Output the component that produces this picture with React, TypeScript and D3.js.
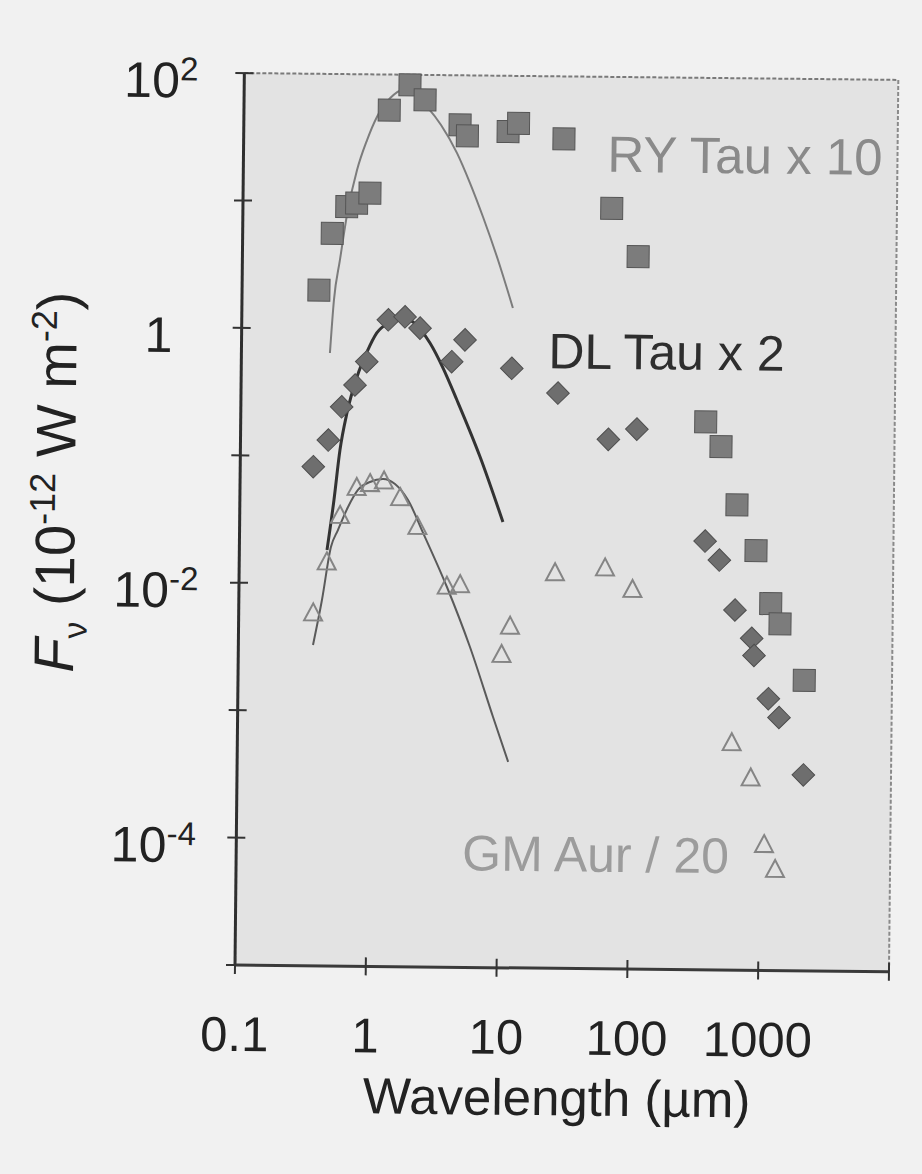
import React from "react";
import * as d3 from "d3";

// ---- data (wavelength in µm, flux in 10^-12 W m^-2) ----
const ryTauWavelength = [0.387, 0.484, 0.622, 0.74, 0.933, 1.29, 1.85, 2.42, 4.5, 5.13, 10.5, 12.6, 28.1, 66.0, 106, 359, 472, 632, 891, 1166, 1378, 2133];
const ryTauFlux = [2.01, 5.62, 9.12, 9.72, 11.7, 52.7, 83.2, 63.7, 40.8, 33.5, 36.5, 42.5, 32.3, 9.31, 3.9, 0.2, 0.128, 0.0448, 0.0197, 0.00757, 0.00526, 0.00191];

const dlTauWavelength = [0.362, 0.469, 0.59, 0.743, 0.91, 1.32, 1.77, 2.31, 4.06, 5.11, 11.7, 26.5, 64.9, 107, 363, 468, 622, 839, 877, 1138, 1377, 2137];
const dlTauFlux = [0.0826, 0.134, 0.245, 0.364, 0.556, 1.19, 1.26, 1.03, 0.565, 0.84, 0.507, 0.327, 0.143, 0.173, 0.0232, 0.0165, 0.00671, 0.00404, 0.00296, 0.00136, 0.00097, 0.000345];

const gmAurWavelength = [0.371, 0.467, 0.585, 0.78, 0.986, 1.26, 1.68, 2.29, 3.88, 4.9, 10.3, 11.9, 26.0, 62.7, 102, 602, 846, 1084, 1321];
const gmAurFlux = [0.00583, 0.0147, 0.0341, 0.0567, 0.061, 0.0641, 0.0476, 0.0284, 0.00968, 0.01, 0.00285, 0.00476, 0.0126, 0.0139, 0.00946, 0.000604, 0.000321, 0.0000966, 0.0000617];

// photosphere model curves
const ryModelWavelength = [0.475, 0.505, 0.557, 0.625, 0.74, 0.878, 1.04, 1.31, 1.64, 2.03, 2.51, 3.22, 4.29, 5.42, 6.86, 9.0, 11.8];
const ryModelFlux = [0.646, 1.69, 3.48, 7.85, 17.7, 30.5, 46.4, 65.5, 76.0, 69.5, 56.1, 40.6, 24.5, 14.3, 7.76, 3.58, 1.51];

const dlModelWavelength = [0.468, 0.524, 0.577, 0.648, 0.768, 0.912, 1.08, 1.36, 1.65, 2.04, 2.76, 3.49, 4.48, 6.8, 10.3];
const dlModelFlux = [0.0184, 0.0454, 0.112, 0.219, 0.421, 0.663, 0.936, 1.14, 1.23, 1.15, 0.789, 0.503, 0.283, 0.102, 0.0315];

const gmModelWavelength = [0.372, 0.432, 0.501, 0.565, 0.672, 0.798, 0.984, 1.24, 1.53, 1.93, 2.53, 3.89, 5.9, 8.97, 11.8];
const gmModelFlux = [0.00329, 0.00743, 0.0194, 0.0264, 0.0401, 0.0547, 0.0633, 0.067, 0.0613, 0.046, 0.0255, 0.00963, 0.00327, 0.000927, 0.000413];

const xTickValues = [0.1, 1, 10, 100, 1000, 10000];
const xTickLabels = ["0.1", "1", "10", "100", "1000"];
const yTickValues = [1e2, 1e1, 1, 1e-1, 1e-2, 1e-3, 1e-4, 1e-5];
const yLabelValues = [1e2, 1, 1e-2, 1e-4];
const yLabelBase = ["10", "1", "10", "10"];
const yLabelExp = ["2", "", "-2", "-4"];

const seriesLabels = ["RY Tau x 10", "DL Tau x 2", "GM Aur / 20"];

// ---- layout ----
const W = 922;
const H = 1174;
const L = 235;
const R = 889;
const T = 73;
const B = 965;
const FONT = "'Liberation Sans', Arial, Helvetica, sans-serif";

export default function App() {
  const x = d3.scaleLog().domain([0.1, 1e4]).range([L, R]);
  const y = d3.scaleLog().domain([1e-5, 1e2]).range([B, T]);

  const line = d3
    .line<[number, number]>()
    .x((d) => x(d[0]))
    .y((d) => y(d[1]))
    .curve(d3.curveMonotoneX);

  const zip = (a: number[], b: number[]) => a.map((v, i) => [v, b[i]] as [number, number]);
  const ry = zip(ryTauWavelength, ryTauFlux);
  const dl = zip(dlTauWavelength, dlTauFlux);
  const gm = zip(gmAurWavelength, gmAurFlux);

  const sq = 22;
  const dia = 16;

  return (
    <svg
      width={W}
      height={H}
      style={{ position: "absolute", left: 0, top: 0, display: "block" }}
      fontFamily={FONT}
    >
      <rect x={0} y={0} width={W} height={H} fill="#f1f1f1" />
      <g transform={`rotate(0.6, ${L}, ${B})`}>
        {/* plot background */}
        <rect x={L} y={T} width={R - L} height={B - T} fill="#e3e3e3" />

        {/* top & right frame (light, dotted) */}
        <line x1={L} y1={T} x2={R} y2={T} stroke="#7a7a7a" strokeWidth={2} strokeDasharray="4 2" />
        <line x1={R} y1={T} x2={R} y2={B} stroke="#8a8a8a" strokeWidth={2} strokeDasharray="4 2" />

        {/* model curves */}
        <path d={line(zip(ryModelWavelength, ryModelFlux)) || ""} fill="none" stroke="#7c7c7c" strokeWidth={2} />
        <path d={line(zip(gmModelWavelength, gmModelFlux)) || ""} fill="none" stroke="#5a5a5a" strokeWidth={2} />
        <path d={line(zip(dlModelWavelength, dlModelFlux)) || ""} fill="none" stroke="#333" strokeWidth={3} />

        {/* RY Tau squares */}
        {ry.map((d, i) => (
          <rect
            key={"ry" + i}
            x={x(d[0]) - sq / 2}
            y={y(d[1]) - sq / 2}
            width={sq}
            height={sq}
            fill="#7c7c7c"
            stroke="#555"
            strokeWidth={1}
          />
        ))}

        {/* DL Tau diamonds */}
        {dl.map((d, i) => (
          <rect
            key={"dl" + i}
            x={-dia / 2}
            y={-dia / 2}
            width={dia}
            height={dia}
            transform={`translate(${x(d[0])},${y(d[1])}) rotate(45)`}
            fill="#6e6e6e"
            stroke="#4e4e4e"
            strokeWidth={1}
          />
        ))}

        {/* GM Aur triangles */}
        {gm.map((d, i) => {
          const cx = x(d[0]);
          const cy = y(d[1]);
          return (
            <path
              key={"gm" + i}
              d={`M${cx},${cy - 10} L${cx + 9},${cy + 7} L${cx - 9},${cy + 7} Z`}
              fill="none"
              stroke="#858585"
              strokeWidth={2}
            />
          );
        })}

        {/* left axis */}
        <line x1={L} y1={T} x2={L} y2={B} stroke="#2e2e2e" strokeWidth={3} />
        {yTickValues.map((v) => (
          <line key={"yt" + v} x1={L - 9} x2={L + 9} y1={y(v)} y2={y(v)} stroke="#333" strokeWidth={2} />
        ))}
        {/* bottom axis */}
        <line x1={L} y1={B} x2={R} y2={B} stroke="#3a3a3a" strokeWidth={3} />
        {xTickValues.map((v) => (
          <line key={"xt" + v} x1={x(v)} x2={x(v)} y1={B - 9} y2={B + 9} stroke="#333" strokeWidth={2} />
        ))}

        {/* x tick labels */}
        {xTickLabels.map((s, i) => (
          <text key={"xl" + s} x={x(xTickValues[i])} y={B + 86} fontSize={49} textAnchor="middle" fill="#222">
            {s}
          </text>
        ))}

        {/* y tick labels */}
        {yLabelValues.map((v, i) => (
          <text key={"yl" + v} x={L - 83} y={y(v) + 25} fontSize={50} textAnchor="middle" fill="#222">
            <tspan>{yLabelBase[i]}</tspan>
            {yLabelExp[i] ? (
              <tspan dy={-17} fontSize={33}>
                {yLabelExp[i]}
              </tspan>
            ) : null}
          </text>
        ))}

        {/* axis titles */}
        <text x={558} y={B + 147} fontSize={51} textAnchor="middle" fill="#222">
          Wavelength (µm)
        </text>
        <text transform={`translate(70, 484) rotate(-90)`} fontSize={56} textAnchor="middle" fill="#222">
          <tspan fontStyle="italic">F</tspan>
          <tspan fontSize={34} dy={13}>ν</tspan>
          <tspan dy={-13}> (10</tspan>
          <tspan fontSize={36} dy={-20}>-12</tspan>
          <tspan dy={20}> W m</tspan>
          <tspan fontSize={36} dy={-20}>-2</tspan>
          <tspan dy={20}>)</tspan>
        </text>

        {/* series labels */}
        <text x={599} y={168} fontSize={51} fill="#8a8a8a">
          {seriesLabels[0]}
        </text>
        <text x={542} y={365} fontSize={50} fill="#2e2e2e">
          {seriesLabels[1]}
        </text>
        <text x={461} y={868} fontSize={50} fill="#9c9c9c">
          {seriesLabels[2]}
        </text>
      </g>
    </svg>
  );
}
